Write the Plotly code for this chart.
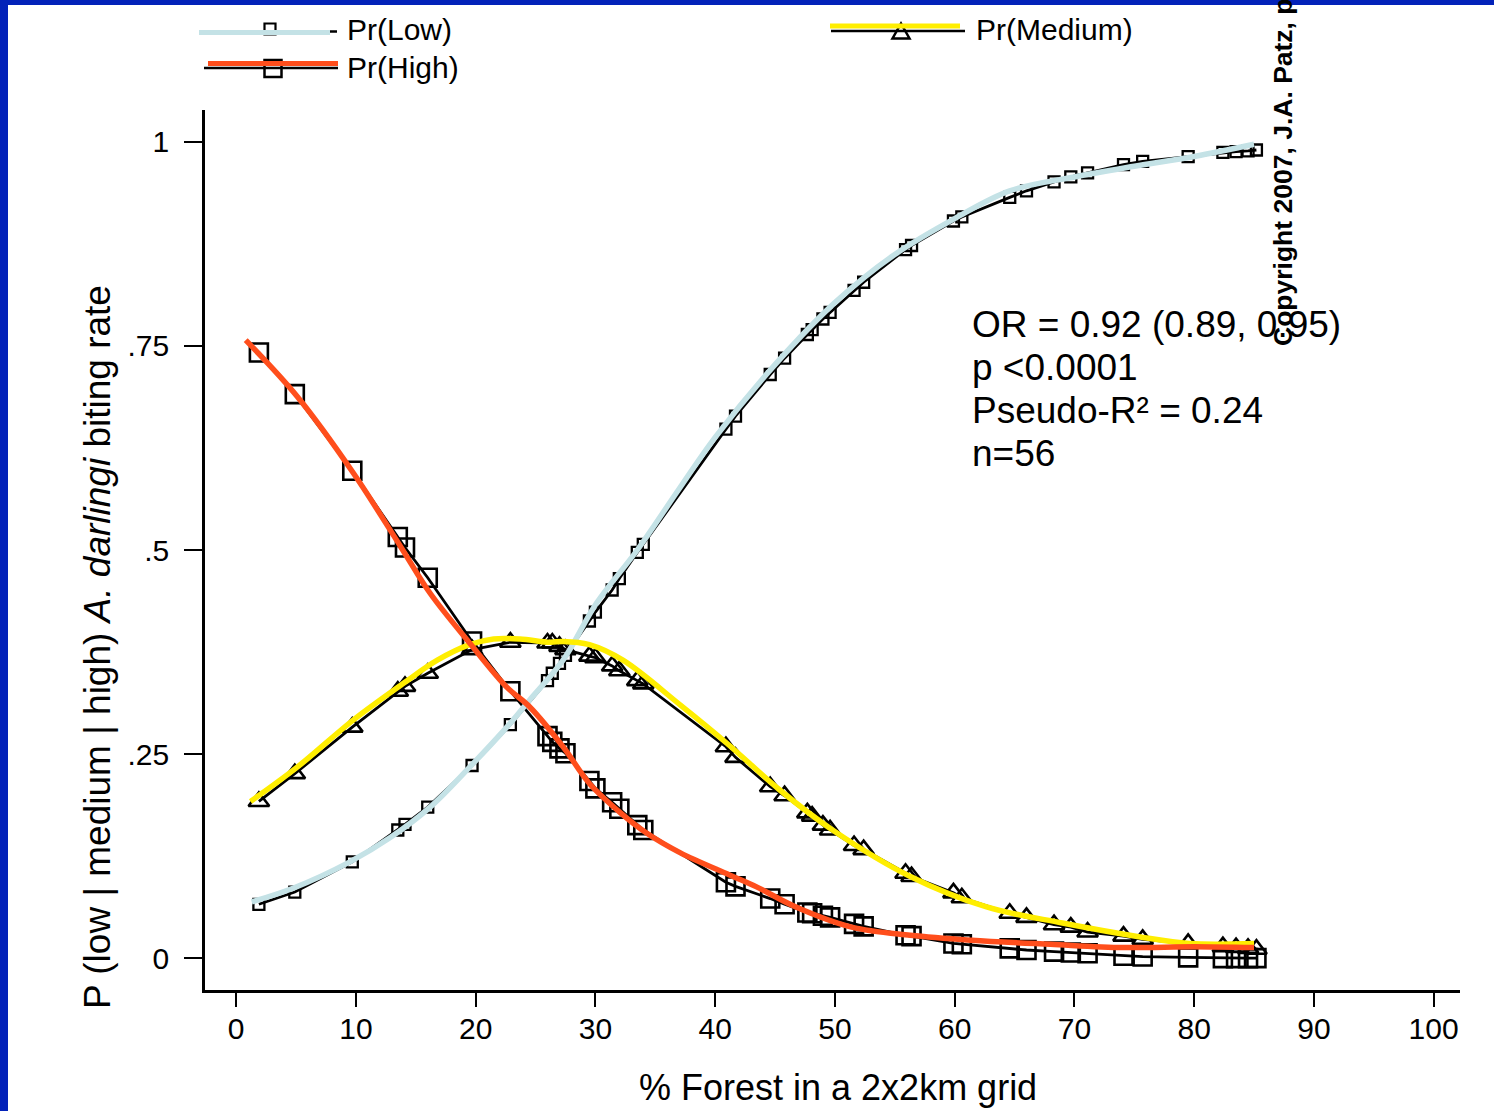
import plotly.graph_objects as go

# ---------------- data ----------------
forest = [1.9, 4.9, 9.7, 13.5, 14.1, 16.0, 19.7, 22.9, 26.0, 26.4, 27.0, 27.5,
          29.5, 30.0, 31.4, 32.0, 33.5, 34.0, 40.9, 41.7, 44.6, 45.8, 47.7, 48.1,
          49.0, 49.6, 51.6, 52.4, 55.9, 56.4, 59.9, 60.6, 64.6, 66.0, 68.3, 69.7,
          71.1, 74.1, 75.7, 79.5, 82.4, 83.5, 84.5, 85.2]

pr_low = [.066, .081, .118, .157, .164, .185, .236, .286, .340, .349, .361, .371,
          .413, .424, .451, .465, .497, .507, .648, .664, .715, .735, .764, .770,
          .783, .791, .818, .828, .868, .873, .903, .908, .932, .940, .951, .957,
          .962, .972, .976, .982, .987, .988, .989, .990]

pr_medium = [.192, .226, .283, .327, .333, .349, .378, .387, .386, .386, .382, .378,
             .370, .368, .358, .352, .340, .336, .259, .246, .210, .199, .178, .174,
             .163, .157, .138, .133, .104, .100, .080, .074, .055, .050, .041, .038,
             .032, .027, .023, .018, .014, .013, .012, .011]

pr_high = [.742, .691, .597, .516, .503, .466, .388, .327, .272, .265, .257, .251,
           .217, .208, .191, .183, .163, .157, .093, .088, .073, .066, .056, .055,
           .052, .050, .042, .039, .028, .027, .018, .017, .012, .010, .008, .007,
           .006, .003, .002, .001, .000, .000, .000, .000]

# smooth coloured overlay curves
low_curve_x = [1.3, 4.8, 9.5, 12.9, 16.2, 19.5, 22.9, 24.5, 27.3, 30.1, 33.5, 37,
               40, 45, 50, 55, 60, 64.6, 70, 75, 80, 85]
low_curve_y = [.069, .086, .118, .148, .185, .234, .288, .316, .365, .435, .500, .575,
               .638, .727, .803, .862, .906, .940, .957, .970, .982, .997]

med_curve_x = [1.2, 5.1, 9.8, 14, 16.8, 19.5, 21.5, 23.7, 26.2, 27.3, 29.5, 32.3,
               37.1, 41, 45.4, 49.8, 56.3, 62.6, 69, 75.5, 79.6, 85]
med_curve_y = [.192, .234, .292, .337, .365, .384, .391, .391, .387, .388, .384, .365,
               .31, .263, .206, .157, .100, .063, .043, .026, .018, .018]

high_curve_x = [0.8, 5.1, 9.8, 13.7, 16.2, 19.5, 22.6, 24.5, 27.3, 29.5, 32.1, 34.3,
                37.1, 41.2, 43.5, 46.7, 51.4, 56.3, 61.4, 68, 74.1, 80, 85]
high_curve_y = [.757, .688, .594, .505, .447, .386, .332, .308, .259, .214, .178, .153,
                .129, .102, .087, .063, .038, .028, .022, .017, .013, .014, .013]

x_ticks = [0, 10, 20, 30, 40, 50, 60, 70, 80, 90, 100]
y_ticks = [0, .25, .5, .75, 1]
y_tick_labels = ["0", ".25", ".5", ".75", "1"]

stats_lines = ["OR = 0.92 (0.89, 0.95)", "p <0.0001", "Pseudo-R² = 0.24", "n=56"]

# ---------------- styling ----------------
W, H = 1494, 1111
ML, MR, MT, MB = 205, 34, 110, 121
PW, PH = W - ML - MR, H - MT - MB

REG = "Liberation Sans, Arial, sans-serif"
LBLUE = "#c4e2e6"
RED = "#ff4e1c"
YEL = "#ffee00"
BORDER = "#0322b9"


def px(x):
    return (x - ML) / PW


def py(y):
    return (H - MB - y) / PH


fig = go.Figure()

# black connected lines with markers
fig.add_trace(go.Scatter(x=forest, y=pr_low, mode="lines+markers", name="Pr(Low)",
                         line=dict(color="black", width=2.8),
                         marker=dict(symbol="square-open", size=11, color="black",
                                     line=dict(width=2.3))))
fig.add_trace(go.Scatter(x=forest, y=pr_medium, mode="lines+markers", name="Pr(Medium)",
                         line=dict(color="black", width=2.8),
                         marker=dict(symbol="triangle-up-open", size=18, color="black",
                                     line=dict(width=2.6))))
fig.add_trace(go.Scatter(x=forest, y=pr_high, mode="lines+markers", name="Pr(High)",
                         line=dict(color="black", width=2.8),
                         marker=dict(symbol="square-open", size=18, color="black",
                                     line=dict(width=2.6))))

# coloured smooth overlays
fig.add_trace(go.Scatter(x=low_curve_x, y=low_curve_y, mode="lines", name="Low curve",
                         line=dict(color=LBLUE, width=5.5, shape="spline")))
fig.add_trace(go.Scatter(x=med_curve_x, y=med_curve_y, mode="lines", name="Medium curve",
                         line=dict(color=YEL, width=5.5, shape="spline")))
fig.add_trace(go.Scatter(x=high_curve_x, y=high_curve_y, mode="lines", name="High curve",
                         line=dict(color=RED, width=5.5, shape="spline")))

shapes = []
# blue frame strips
shapes.append(dict(type="rect", xref="paper", yref="paper", x0=px(0), x1=px(8),
                   y0=py(H), y1=py(0), fillcolor=BORDER, line=dict(width=0), layer="above"))
shapes.append(dict(type="rect", xref="paper", yref="paper", x0=px(0), x1=px(W),
                   y0=py(5), y1=py(0), fillcolor=BORDER, line=dict(width=0), layer="above"))


def hline(x0, x1, y, color, width):
    shapes.append(dict(type="line", xref="paper", yref="paper", x0=px(x0), x1=px(x1),
                       y0=py(y), y1=py(y), line=dict(color=color, width=width)))


def square(cx, cy, s, lw):
    shapes.append(dict(type="rect", xref="paper", yref="paper",
                       x0=px(cx - s / 2), x1=px(cx + s / 2), y0=py(cy + s / 2), y1=py(cy - s / 2),
                       line=dict(color="black", width=lw), fillcolor="rgba(0,0,0,0)"))


def triangle(cx, cy, w, h, lw):
    path = "M {} {} L {} {} L {} {} Z".format(px(cx - w / 2), py(cy + h / 2),
                                              px(cx + w / 2), py(cy + h / 2),
                                              px(cx), py(cy - h / 2))
    shapes.append(dict(type="path", xref="paper", yref="paper", path=path,
                       line=dict(color="black", width=lw)))


# legend: Low
hline(200, 337, 31.5, "black", 2.5)
square(270, 29, 11, 2.2)
hline(199, 330, 32.5, LBLUE, 5)
# legend: High
hline(204, 338, 68, "black", 2.5)
square(273, 68.5, 17, 2.5)
hline(208, 338, 63.5, RED, 5)
# legend: Medium
hline(831, 965, 31, "black", 2.5)
triangle(901, 31, 17, 15, 2.5)
hline(830, 960, 26, YEL, 5)

annotations = []


def text(x, y, s, size, family=REG, xanchor="left", yanchor="middle", angle=0, color="black"):
    annotations.append(dict(x=px(x), y=py(y), xref="paper", yref="paper", text=s,
                            showarrow=False, xanchor=xanchor, yanchor=yanchor,
                            textangle=angle, font=dict(size=size, family=family, color=color)))


text(345, 29, "Pr(Low)", 30)
text(345, 67, "Pr(High)", 30)
text(974, 29, "Pr(Medium)", 30)

for i, s in enumerate(stats_lines):
    text(970, 325 + i * 42.7, s, 37)

text(838, 1087, "% Forest in a 2x2km grid", 36, REG, xanchor="center")
text(97, 647, "P (low | medium | high) <i>A. darlingi</i> biting rate", 37, REG,
     xanchor="center", angle=-90)
text(1283, 348, "<b>Copyright 2007, J.A. Patz, p</b>", 26.5, REG, xanchor="center",
     yanchor="bottom", angle=-90)

fig.update_layout(
    width=W, height=H,
    margin=dict(l=ML, r=MR, t=MT, b=MB),
    paper_bgcolor="white", plot_bgcolor="white",
    showlegend=False,
    shapes=shapes, annotations=annotations,
    xaxis=dict(range=[-2.6, 102.2], tickvals=x_ticks, ticks="outside", ticklen=14,
               tickwidth=2, tickcolor="black", showline=True, linewidth=3,
               linecolor="black", showgrid=False, zeroline=False,
               tickfont=dict(size=30, family=REG, color="black"), ticklabelstandoff=-4),
    yaxis=dict(range=[-0.039, 1.039], tickvals=y_ticks, ticktext=y_tick_labels,
               ticks="outside", ticklen=18, tickwidth=2, tickcolor="black",
               showline=True, linewidth=2.5, linecolor="black", showgrid=False,
               zeroline=False, tickfont=dict(size=30, family=REG, color="black"),
               ticklabelstandoff=9),
)

fig.write_html("out.html", config={"displayModeBar": False},
               post_script="document.body.style.margin='0px';")
